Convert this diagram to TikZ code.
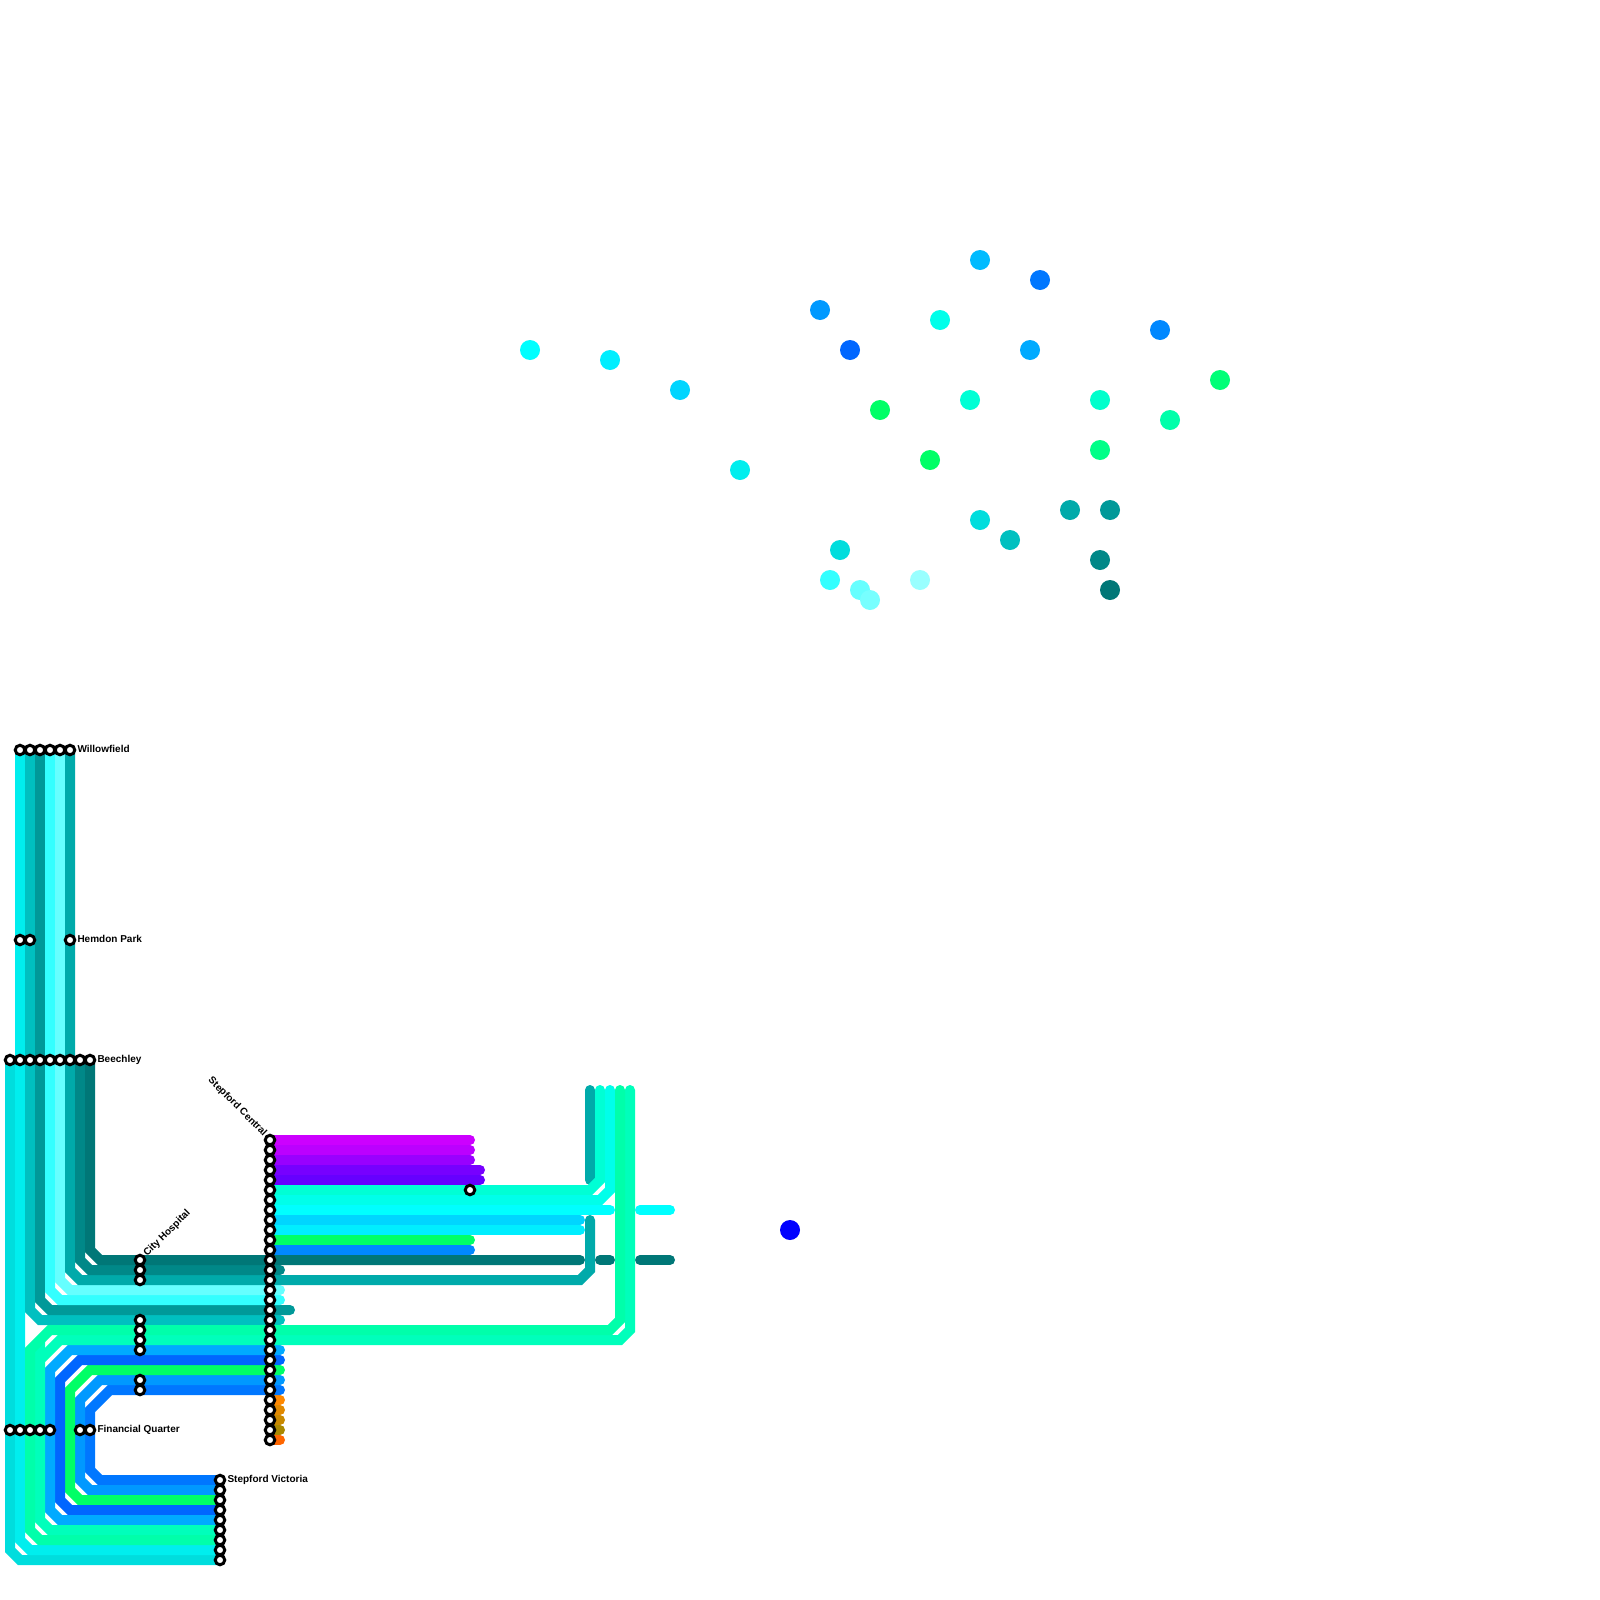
\documentclass[tikz,border=0pt]{standalone}
\usepackage{fontspec}
\setmainfont{Liberation Sans}
\usetikzlibrary{backgrounds}
\newcommand\cdef[1]{\definecolor{h#1}{HTML}{#1}}
\cdef{CC00FF}\cdef{BB00FF}\cdef{9900FF}\cdef{7700FF}\cdef{6600FF}
\cdef{00FFD5}\cdef{00FFEA}\cdef{00FFFF}\cdef{00D5FF}\cdef{00EEFF}
\cdef{00FF66}\cdef{0088FF}\cdef{007777}\cdef{008888}\cdef{00AAAA}
\cdef{66FFFF}\cdef{33FFFF}\cdef{009999}\cdef{00C0C0}\cdef{00FFAA}
\cdef{00FFBB}\cdef{00AAFF}\cdef{0066FF}\cdef{0099FF}\cdef{0077FF}
\cdef{FF8800}\cdef{E08800}\cdef{C88800}\cdef{AA8800}\cdef{FF6600}
\cdef{00DDDD}\cdef{00EEEE}\cdef{0000FF}\cdef{00BBFF}\cdef{00FFCC}
\cdef{00FF88}\cdef{00FF77}\cdef{77FFFF}\cdef{99FFFF}
\tikzset{
  stn/.style={circle,draw=black,fill=white,line width=3pt,minimum size=9.5pt,inner sep=0pt,outer sep=0pt},
  mline/.style={line width=10pt,line cap=round,line join=miter,miter limit=10},
  stub/.style={line width=10pt,line cap=round},
  lbl/.style={inner sep=0pt,outer sep=0pt,font=\fontsize{10}{12}\selectfont\bfseries,text=black},
  spot/.style={circle,inner sep=0pt,outer sep=0pt,minimum size=20pt}
}
\begin{document}
\begin{tikzpicture}[x=1pt,y=-1pt]
\useasboundingbox (0,0) rectangle (1600,1600);
% stations
\foreach \x in {20,30,40,50,60,70} \node[stn] (w\x) at (\x,750) {};
\foreach \x in {20,30,70} \node[stn] (h\x) at (\x,940) {};
\foreach \x in {10,20,30,40,50,60,70,80,90} \node[stn] (b\x) at (\x,1060) {};
\foreach \x in {10,20,30,40,50,80,90} \node[stn] (f\x) at (\x,1430) {};
\foreach \y in {1260,1270,1280,1320,1330,1340,1350,1380,1390} \node[stn] (m\y) at (140,\y) {};
\foreach \y in {1140,1150,...,1440} \node[stn] (c\y) at (270,\y) {};
\foreach \y in {1480,1490,...,1560} \node[stn] (v\y) at (220,\y) {};
\node[stn] (x1190) at (470,1190) {};
% labels
\node[lbl,anchor=west] (lw) at (77.5,749) {Willowfield};
\node[lbl,anchor=west] (lh) at (77.5,939) {Hemdon Park};
\node[lbl,anchor=west] (lb) at (97.5,1060) {Beechley};
\node[lbl,anchor=west] (lf) at (97.5,1430) {Financial Quarter};
\node[lbl,anchor=west] (lv) at (227.5,1480) {Stepford Victoria};
\node[lbl,anchor=west,rotate=45] (lc) at (145.5,1255) {City Hospital};
\node[lbl,anchor=east,rotate=-45] (ls) at (265,1134.5) {Stepford Central};
% free line ends
\foreach \y/\x in {1140/470,1150/470,1160/470,1170/480,1180/480,1210/610,1220/580,1230/580,1240/470,1250/470,1260/580,
  1270/280,1290/280,1300/280,1310/290,1320/280,1350/280,1360/280,1370/280,1380/280,1390/280,
  1400/280,1410/280,1420/280,1430/280,1440/280}
  \coordinate (e\y) at (\x,\y);
\coordinate (t590) at (590,1090);\coordinate (t600) at (600,1090);\coordinate (t610) at (610,1090);
\coordinate (t620) at (620,1090);\coordinate (t630) at (630,1090);
\coordinate (u590) at (590,1180);\coordinate (u591) at (590,1220);
\coordinate (a1) at (640,1210);\coordinate (a2) at (670,1210);
\coordinate (d1) at (600,1260);\coordinate (d2) at (610,1260);
\coordinate (d3) at (640,1260);\coordinate (d4) at (670,1260);
\begin{pgfonlayer}{background}
% central eastbound stubs
\foreach \y/\c in {1140/CC00FF,1150/BB00FF,1160/9900FF,1170/7700FF,1180/6600FF,1220/00D5FF,1230/00EEFF,1240/00FF66,1250/0088FF,
  1400/FF8800,1410/E08800,1420/C88800,1430/AA8800,1440/FF6600}
  \draw[stub,draw=h\c] (c\y.center) -- (e\y);
% left trunk lines
\draw[mline,draw=h00DDDD] (b10.center) -- (10,1550) -- (20,1560) -- (v1560.center);
\draw[mline,draw=h00EEEE] (w20.center) -- (20,1540) -- (30,1550) -- (v1550.center);
\draw[mline,draw=h00C0C0] (w30.center) -- (30,1310) -- (40,1320) -- (e1320);
\draw[mline,draw=h009999] (w40.center) -- (40,1300) -- (50,1310) -- (e1310);
\draw[mline,draw=h33FFFF] (w50.center) -- (50,1290) -- (60,1300) -- (e1300);
\draw[mline,draw=h66FFFF] (w60.center) -- (60,1280) -- (70,1290) -- (e1290);
\draw[mline,draw=h00AAAA] (w70.center) -- (70,1270) -- (80,1280) -- (580,1280) -- (590,1270) -- (u591);
\draw[mline,draw=h008888] (b80.center) -- (80,1260) -- (90,1270) -- (e1270);
\draw[mline,draw=h007777] (b90.center) -- (90,1250) -- (100,1260) -- (e1260);
% lower lines
\draw[mline,draw=h0077FF] (e1390) -- (110,1390) -- (90,1410) -- (90,1470) -- (100,1480) -- (v1480.center);
\draw[mline,draw=h0099FF] (e1380) -- (100,1380) -- (80,1400) -- (80,1480) -- (90,1490) -- (v1490.center);
\draw[mline,draw=h00FF66] (e1370) -- (90,1370) -- (70,1390) -- (70,1490) -- (80,1500) -- (v1500.center);
\draw[mline,draw=h0066FF] (e1360) -- (80,1360) -- (60,1380) -- (60,1500) -- (70,1510) -- (v1510.center);
\draw[mline,draw=h00AAFF] (e1350) -- (70,1350) -- (50,1370) -- (50,1510) -- (60,1520) -- (v1520.center);
% right side
\draw[stub,draw=h00AAAA] (t590) -- (u590);
\draw[mline,draw=h00FFD5] (t600) -- (600,1180) -- (590,1190) -- (c1190.center);
\draw[mline,draw=h00FFEA] (t610) -- (610,1190) -- (600,1200) -- (c1200.center);
\draw[stub,draw=h00FFFF] (c1210.center) -- (e1210);
\draw[stub,draw=h00FFFF] (a1) -- (a2);
\draw[stub,draw=h007777] (d1) -- (d2);
\draw[stub,draw=h007777] (d3) -- (d4);
\fill[h00FFBB] (35,1345) -- (45,1335) -- (45,1350) -- (35,1360) -- cycle;
\draw[mline,draw=h00FFBB] (t630) -- (630,1330) -- (620,1340) -- (60,1340) -- (40,1360) -- (40,1520) -- (50,1530) -- (v1530.center);
\draw[mline,draw=h00FFAA] (t620) -- (620,1320) -- (610,1330) -- (50,1330) -- (30,1350) -- (30,1530) -- (40,1540) -- (v1540.center);
\end{pgfonlayer}
% scattered spots
\foreach \n/\x/\y/\c in {s1/530/350/00FFFF,s2/610/360/00EEFF,s3/680/390/00D5FF,s4/740/470/00EEEE,
  s5/820/310/0099FF,s6/850/350/0066FF,s7/880/410/00FF66,s8/940/320/00FFEA,s9/980/260/00BBFF,
  s10/1040/280/0077FF,s11/1030/350/00AAFF,s12/970/400/00FFD5,s13/930/460/00FF66,s14/1100/400/00FFCC,
  s15/1100/450/00FF88,s16/1160/330/0088FF,s17/1170/420/00FFAA,s18/1220/380/00FF77,
  s19/1070/510/00AAAA,s20/1110/510/009999,s21/980/520/00DDDD,s22/1010/540/00C0C0,
  s23/1100/560/008888,s24/1110/590/007777,s25/840/550/00DDDD,s26/830/580/33FFFF,
  s27/860/590/66FFFF,s28/870/600/77FFFF,s29/920/580/99FFFF,s30/790/1230/0000FF}
  \node[spot,fill=h\c] (\n) at (\x,\y) {};
\end{tikzpicture}
\end{document}
